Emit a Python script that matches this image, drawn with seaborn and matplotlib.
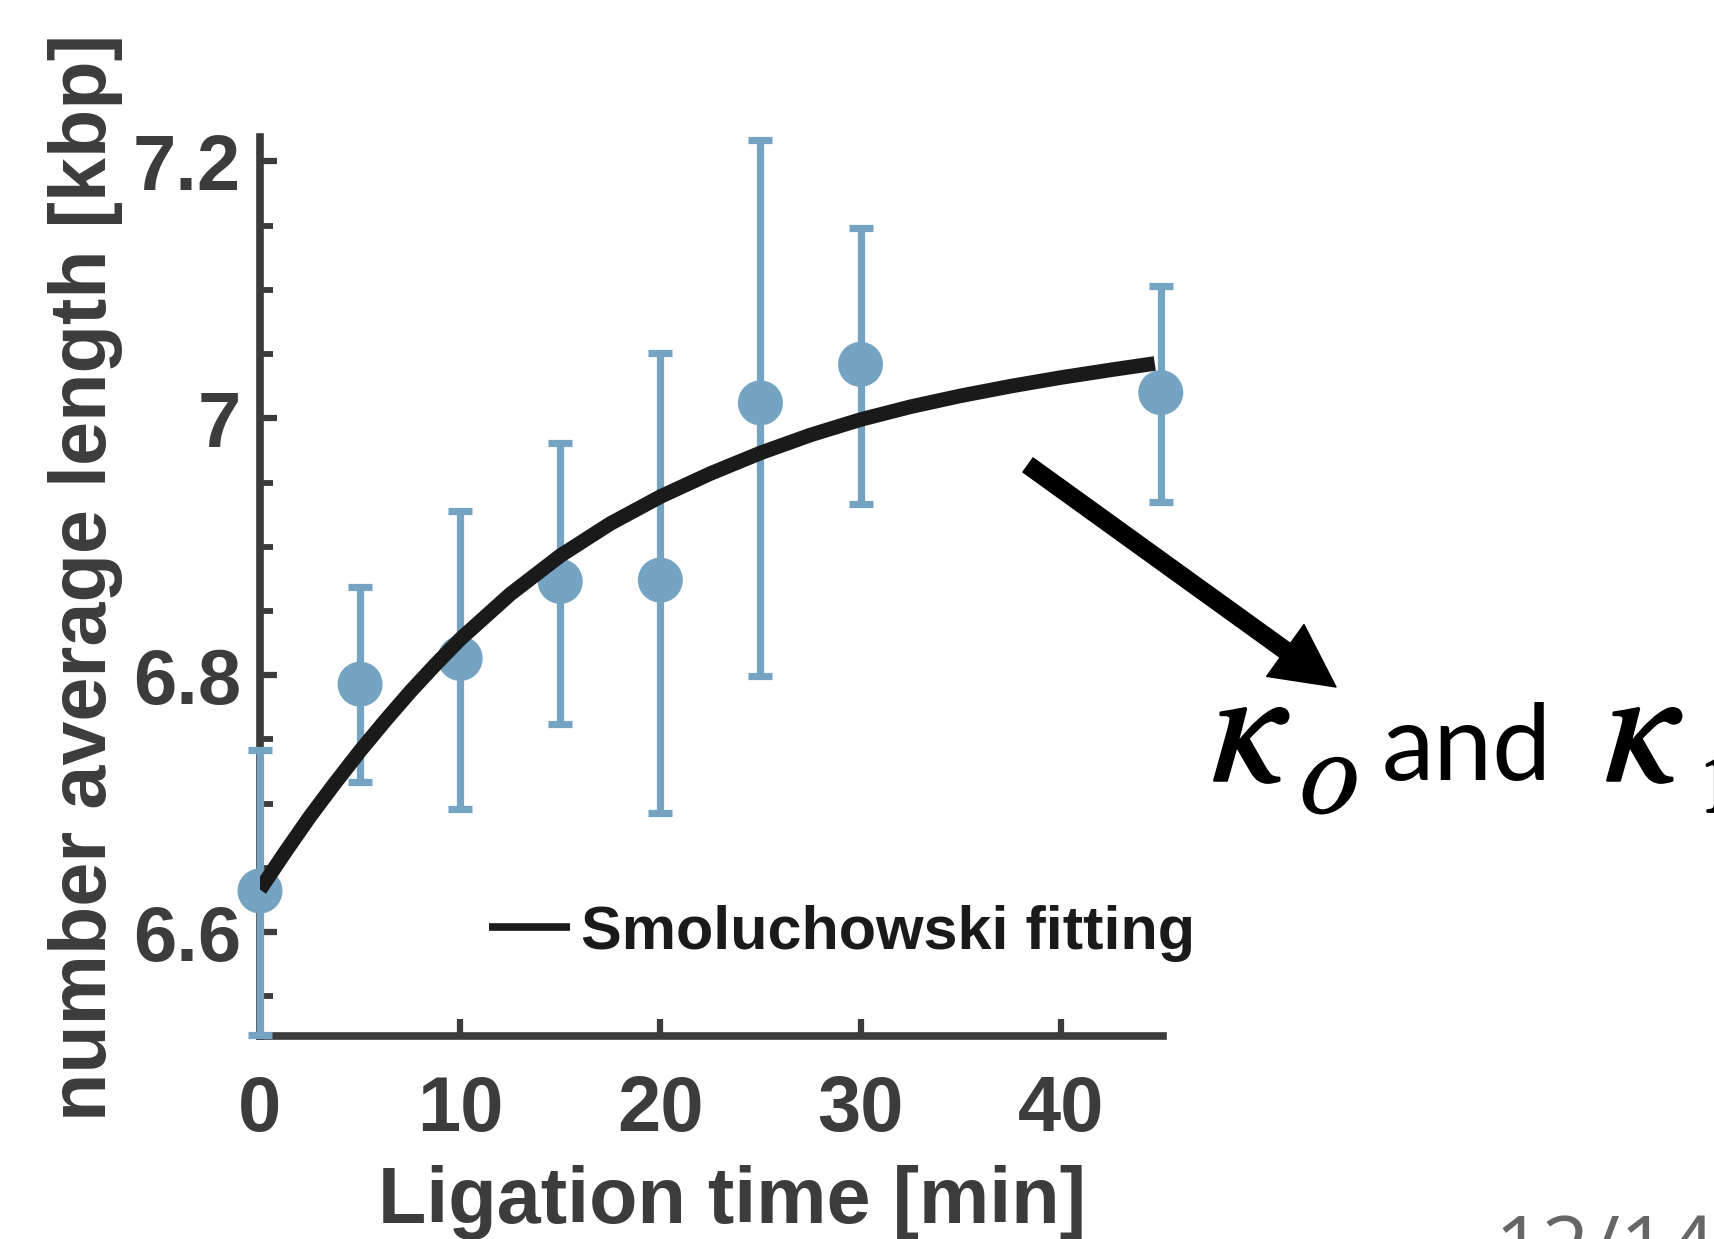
import pandas as pd
import seaborn as sns
import matplotlib.pyplot as plt
import matplotlib.patheffects as pe
from matplotlib.ticker import MultipleLocator

time_min = [0, 5, 10, 15, 20, 25, 30, 45]
mean_len = [6.632, 6.793, 6.813, 6.873, 6.874, 7.012, 7.042, 7.020]
err_low = [0.112, 0.076, 0.117, 0.111, 0.181, 0.213, 0.109, 0.085]
err_high = [0.110, 0.076, 0.115, 0.108, 0.177, 0.205, 0.106, 0.083]

# Smoluchowski fit curve, sampled off the figure
fit_t = [0, 1.25, 2.5, 3.75, 5, 6.25, 7.5, 8.75, 10, 12.5, 15, 17.5, 20,
         22.5, 25, 27.5, 30, 32.5, 35, 37.5, 40, 42.5, 44.7]
fit_len = [6.633, 6.662, 6.690, 6.716, 6.741, 6.7645, 6.787, 6.808, 6.828,
           6.863, 6.893, 6.918, 6.939, 6.957, 6.973, 6.987, 6.999, 7.009,
           7.0175, 7.025, 7.0317, 7.0377, 7.0427]

x_ticks = [0, 10, 20, 30, 40]
y_ticks = [6.6, 6.8, 7.0, 7.2]
y_tick_labels = ['6.6', '6.8', '7', '7.2']

pts = pd.DataFrame({'t': time_min, 'len': mean_len})
fit = pd.DataFrame({'t': fit_t, 'len': fit_len})

sns.set_style("white")
plt.rcParams['font.family'] = ['Liberation Sans', 'DejaVu Sans']

W, H = 1715, 1239
fig = plt.figure(figsize=(W / 100, H / 100), dpi=100)
ax = fig.add_axes([0.1516, 0.1638, 0.5264, 0.7256])

blue = '#74a4c2'
axis_grey = '#3c3c3c'

# error bars over the spine, dots above them, fit line on top
ax.errorbar(time_min, mean_len, yerr=[err_low, err_high], fmt='none',
            ecolor=blue, elinewidth=5.2, capsize=8.3, capthick=5.2,
            zorder=2.6, clip_on=False)
sns.scatterplot(data=pts, x='t', y='len', s=1050, color=blue,
                edgecolor='none', zorder=3, clip_on=False, ax=ax)
sns.lineplot(data=fit, x='t', y='len', color='#1a1a1a', linewidth=10.5,
             label='Smoluchowski fitting', zorder=4, ax=ax)
fit_line = ax.get_lines()[-1]
fit_line.set_linewidth(10.5)
fit_line.set_solid_capstyle('butt')
fit_line.set_solid_joinstyle('round')

ax.set_xlim(0, 45.1)
ax.set_ylim(6.519, 7.219)
ax.set_xticks(x_ticks)
ax.set_yticks(y_ticks)
ax.set_yticklabels(y_tick_labels)
ax.yaxis.set_minor_locator(MultipleLocator(0.05))

for side in ['top', 'right']:
    ax.spines[side].set_visible(False)
for side in ['left', 'bottom']:
    ax.spines[side].set_color(axis_grey)
    ax.spines[side].set_linewidth(5.5)

# the white style hides ticks, turn them back on (inward)
ax.tick_params(axis='both', which='both', left=True, bottom=True,
               direction='in', color=axis_grey)
ax.tick_params(axis='both', which='major', length=12, width=4.5,
               labelcolor=axis_grey, labelsize=56)
ax.tick_params(axis='y', which='minor', length=9, width=4.2)
ax.tick_params(axis='y', which='major', pad=13.7)
ax.tick_params(axis='x', which='major', pad=27)
for lab in ax.get_xticklabels() + ax.get_yticklabels():
    lab.set_fontweight('bold')

ax.set_xlabel('Ligation time [min]', fontsize=57, fontweight='bold',
              color=axis_grey)
ax.set_ylabel('number average length [kbp]', fontsize=57, fontweight='bold',
              color=axis_grey)
ax.xaxis.set_label_coords(0.5234, -0.1435)
ax.yaxis.set_label_coords(-0.1518, 0.5106)

leg = ax.legend(loc='center left', bbox_to_anchor=(489 / W, 1 - 933 / H),
                bbox_transform=fig.transFigure, frameon=False,
                handlelength=1.33, handletextpad=0.18, borderpad=0,
                borderaxespad=0, prop={'size': 44, 'weight': 'bold'})
for txt in leg.get_texts():
    txt.set_color('#1a1a1a')
leg.get_lines()[0].set_linewidth(5.5)

# arrow pointing to the rate constants
ax.annotate('', xy=(1336 / W, 1 - 687 / H), xytext=(1028 / W, 1 - 465 / H),
            xycoords='figure fraction', textcoords='figure fraction',
            arrowprops=dict(color='black', width=12.5, headwidth=46,
                            headlength=45, shrink=0))

# kappa_O and kappa_1 (right part runs off the slide); a thin stroke
# makes the math glyphs as heavy as in the slide
heavy = [pe.withStroke(linewidth=1.8, foreground='black')]
fig.text(1212 / W, 1 - 782 / H, r'$\kappa$', fontsize=118, ha='left',
         va='baseline', math_fontfamily='stix', color='black',
         path_effects=heavy)
fig.text(1299 / W, 1 - 812 / H, r'$O$', fontsize=58, ha='left',
         va='baseline', math_fontfamily='stix', color='black',
         path_effects=heavy)
fig.text(1382 / W, 1 - 780 / H, 'and', fontsize=76, ha='left',
         va='baseline', family=['Lato', 'DejaVu Sans'], color='black')
fig.text(1605 / W, 1 - 782 / H, r'$\kappa$', fontsize=118, ha='left',
         va='baseline', math_fontfamily='stix', color='black',
         path_effects=heavy)
fig.text(1698 / W, 1 - 812 / H, r'$1$', fontsize=58, ha='left',
         va='baseline', math_fontfamily='stix', color='black',
         path_effects=heavy)

# page number, cut by the bottom edge
fig.text(1494 / W, 1 - 1275 / H, '12/14', fontsize=60, ha='left',
         va='baseline', family=['Open Sans', 'DejaVu Sans'],
         color='#666666')

fig.savefig('out.png', dpi=100)
